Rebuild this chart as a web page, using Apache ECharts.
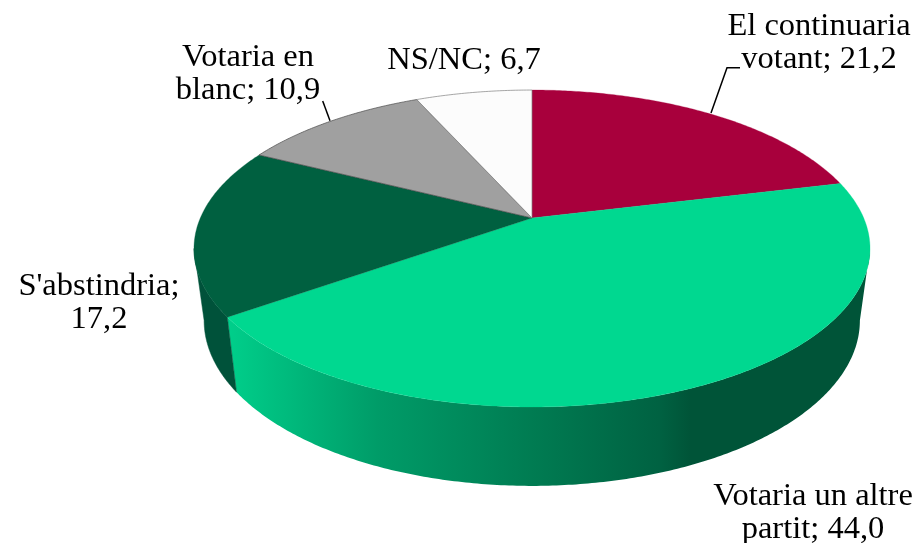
<!DOCTYPE html>
<html><head><meta charset="utf-8">
<style>html,body{margin:0;padding:0;background:#fff}#c{width:920px;height:543px}</style>
<script src="https://cdn.jsdelivr.net/npm/echarts@6/dist/echarts.min.js"></script>
</head><body><div id="c"></div>
<script>
var categories = ['El continuaria votant', 'Votaria un altre partit', "S'abstindria", 'Votaria en blanc', 'NS/NC'];
var values = [21.2, 44.0, 17.2, 10.9, 6.7];
var valueLabels = ['21,2', '44,0', '17,2', '10,9', '6,7'];

// Styling and layout, separate from the data
var topColors = ['#A8003C', '#00D890', '#006040', '#A0A0A0', '#FCFCFC'];
var topStrokes = [null, null, null, '#4a4a4a', '#808080'];
var wallColors = [null, null, '#00523A', null, null];
var labelLines = [['El continuaria', 'votant; '], ['Votaria un altre', 'partit; '], ["S'abstindria;", ''], ['Votaria en', 'blanc; '], ['NS/NC; ']];
var labelAnchors = [[819, 26], [813, 496], [99, 286], [248, 57], [464, 60]];
var leaders = [[[711, 113], [727, 67.7], [740, 67.7]], null, null, [[330, 120.7], [322.7, 101]], null];
var fontSpec = '32.5px "Liberation Serif"';
var lineGap = 33;

// Projected pie geometry: apex, radii and perspective of the top plane,
// plus the scale and drop of the base plane.
var apex = [532, 218], AX = 331.7, AY = 152.6, K = 0.1925;
var BASE_SX = 0.97, BASE_SY = 1.044, BASE_DY = 70.6;
var tangent = Math.acos(-K), wallFrom = tangent, wallTo = 2 * Math.PI - tangent;
var total = values.reduce(function (a, b) { return a + b; }, 0);

function range(i) {
  var s = 0; for (var j = 0; j < i; j++) s += values[j];
  return [s / total * 2 * Math.PI, (s + values[i]) / total * 2 * Math.PI];
}
function topPoint(t) {
  var w = 1 + K * Math.cos(t);
  return [apex[0] + AX * Math.sin(t) / w, apex[1] - AY * Math.cos(t) / w];
}
function basePoint(t) {
  var w = 1 + K * Math.cos(t);
  return [apex[0] + BASE_SX * AX * Math.sin(t) / w, apex[1] + BASE_DY - BASE_SY * AY * Math.cos(t) / w];
}
function arc(fn, a, b) {
  var n = Math.max(2, Math.ceil((b - a) / 0.01)), p = [];
  for (var i = 0; i <= n; i++) p.push(fn(a + (b - a) * i / n));
  return p;
}
var wallGradient = new echarts.graphic.LinearGradient(230, 0, 870, 0, [
  { offset: 0, color: '#00CE8A' },
  { offset: 0.23, color: '#009C68' },
  { offset: 0.47, color: '#007C52' },
  { offset: 0.67, color: '#006242' },
  { offset: 0.72, color: '#005438' },
  { offset: 1, color: '#005438' }
], true);

var seriesData = categories.map(function (n, i) { return { name: n, value: values[i] }; });

var chart = echarts.init(document.getElementById('c'), null, { renderer: 'canvas' });
chart.setOption({
  animation: false,
  backgroundColor: '#fff',
  series: [
    { // side walls
      type: 'custom', coordinateSystem: 'none', silent: true, z: 1, data: seriesData,
      renderItem: function (params) {
        var i = params.dataIndex, r = range(i);
        var a = Math.max(r[0], wallFrom), b = Math.min(r[1], wallTo);
        if (b <= a) return { type: 'group', children: [] };
        var pts = arc(topPoint, a, b).concat(arc(basePoint, a, b).reverse());
        var fill = wallColors[i] || wallGradient;
        return { type: 'polygon', shape: { points: pts }, style: { fill: fill, stroke: fill === wallGradient ? null : fill, lineWidth: 0.5 } };
      }
    },
    { // top faces
      type: 'custom', coordinateSystem: 'none', silent: true, z: 2, data: seriesData,
      renderItem: function (params) {
        var i = params.dataIndex, r = range(i);
        var pts = [apex.slice()].concat(arc(topPoint, r[0], r[1]));
        var st = { fill: topColors[i], stroke: topStrokes[i] || topColors[i], lineWidth: topStrokes[i] ? 0.7 : 0.3 };
        return { type: 'polygon', shape: { points: pts }, style: st };
      }
    },
    { // labels and leader lines
      type: 'custom', coordinateSystem: 'none', silent: true, z: 3, data: seriesData,
      renderItem: function (params) {
        var i = params.dataIndex, lines = labelLines[i].slice(), a = labelAnchors[i], kids = [];
        lines[lines.length - 1] = lines[lines.length - 1] + valueLabels[i];
        lines.forEach(function (t, k) {
          kids.push({ type: 'text', style: { text: t, x: a[0], y: a[1] + k * lineGap, font: fontSpec, fill: '#000', align: 'center', verticalAlign: 'middle' } });
        });
        if (leaders[i]) kids.push({ type: 'polyline', shape: { points: leaders[i] }, style: { fill: null, stroke: '#000', lineWidth: 1.5 } });
        return { type: 'group', children: kids };
      }
    }
  ]
});
</script></body></html>
